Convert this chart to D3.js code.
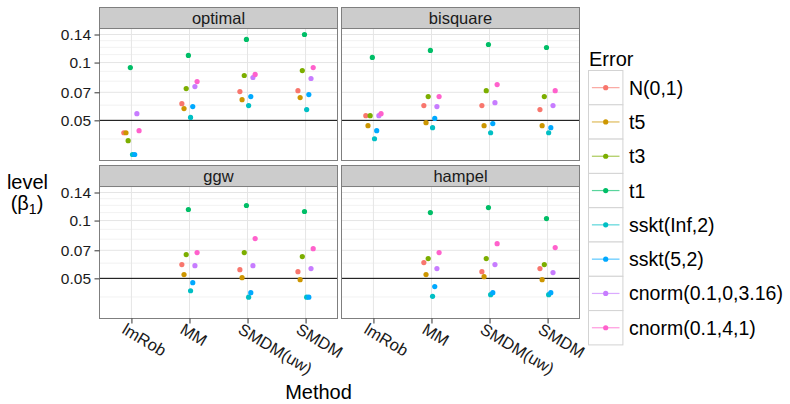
<!DOCTYPE html>
<html><head><meta charset="utf-8">
<script src="https://cdn.jsdelivr.net/npm/d3@7"></script>
<style>
body{margin:0;background:#fff}
text{font-family:"Liberation Sans",Arial,Helvetica,sans-serif}
</style>
</head><body>
<svg id="chart" width="790" height="404"></svg>
<script>
// ---------- data ----------
const methods = ["lmRob", "MM", "SMDM(uw)", "SMDM"];
const errors = ["N(0,1)", "t5", "t3", "t1", "sskt(Inf,2)", "sskt(5,2)", "cnorm(0.1,0,3.16)", "cnorm(0.1,4,1)"];
const panels = ["optimal", "bisquare", "ggw", "hampel"];
const colors = ["#F8766D", "#CD9600", "#7CAE00", "#00BE67", "#00BFC4", "#00A9FF", "#C77CFF", "#FF61CC"];

// rows = errors (same order), columns = methods
const optimalLevels = [
  [0.0431, 0.0611, 0.0706, 0.0714],
  [0.0431, 0.0576, 0.0641, 0.0657],
  [0.0392, 0.0732, 0.0856, 0.0908],
  [0.0942, 0.1089, 0.1319, 0.1400],
  [0.0332, 0.0518, 0.0597, 0.0569],
  [0.0332, 0.0590, 0.0665, 0.0681],
  [0.0542, 0.0750, 0.0836, 0.0826],
  [0.0442, 0.0796, 0.0867, 0.0942]
];
const bisquareLevels = [
  [0.0529, 0.0597, 0.0597, 0.0569],
  [0.0469, 0.0486, 0.0469, 0.0469],
  [0.0529, 0.0665, 0.0714, 0.0665],
  [0.1063, 0.1156, 0.1242, 0.1198],
  [0.0401, 0.0458, 0.0431, 0.0431],
  [0.0442, 0.0512, 0.0481, 0.0458],
  [0.0529, 0.0590, 0.0618, 0.0597],
  [0.0542, 0.0665, 0.0768, 0.0714]
];
const ggwLevels = [
  [null, 0.0590, 0.0555, 0.0542],
  [null, 0.0523, 0.0504, 0.0492],
  [null, 0.0665, 0.0681, 0.0649],
  [null, 0.1142, 0.1198, 0.1115],
  [null, 0.0431, 0.0399, 0.0399],
  [null, 0.0475, 0.0421, 0.0399],
  [null, 0.0582, 0.0582, 0.0562],
  [null, 0.0681, 0.0806, 0.0714]
];
const hampelLevels = [
  [null, 0.0604, 0.0542, 0.0562],
  [null, 0.0523, 0.0510, 0.0492],
  [null, 0.0634, 0.0634, 0.0590],
  [null, 0.1101, 0.1169, 0.1024],
  [null, 0.0403, 0.0411, 0.0411],
  [null, 0.0453, 0.0421, 0.0421],
  [null, 0.0562, 0.0590, 0.0536],
  [null, 0.0681, 0.0758, 0.0723]
];
const yTicks = [0.05, 0.07, 0.1, 0.14];
const yTickLabels = ["0.05", "0.07", "0.1", "0.14"];
const yMinor = [0.04, 0.06, 0.08, 0.09, 0.11, 0.12, 0.13, 0.15];
const refLevel = 0.05;

const panelData = [optimalLevels, bisquareLevels, ggwLevels, hampelLevels];

// ---------- layout ----------
const svg = d3.select("#chart");
const colX = [99.5, 341.5], rowY = [7.5, 165.5];
const stripH = 21, pw = 238, ph = 132;
const font = '"Liberation Sans",Arial,Helvetica,sans-serif';

const allVals = panelData.flat(2).filter(v => v != null);
const lnMin = Math.log(d3.min(allVals)), lnMax = Math.log(d3.max(allVals));
const ext = 0.05 * (lnMax - lnMin);
const y = d3.scaleLog().domain([Math.exp(lnMin - ext), Math.exp(lnMax + ext)]).range([ph, 0]);
const x = d3.scalePoint().domain(methods).range([0, pw]).padding(0.55);
const dodge = x.step() * 0.3 / errors.length;

const defs = svg.append("defs");
defs.append("clipPath").attr("id", "pclip").append("rect").attr("width", pw).attr("height", ph);

panels.forEach((name, pi) => {
  const col = pi % 2, row = Math.floor(pi / 2);
  const gx = colX[col], gy = rowY[row];
  // strip
  const strip = svg.append("g").attr("transform", `translate(${gx},${gy})`);
  strip.append("rect").attr("width", pw).attr("height", stripH)
    .attr("fill", "#CCCCCC").attr("stroke", "#7F7F7F").attr("stroke-width", 1);
  strip.append("text").attr("x", pw / 2).attr("y", stripH / 2).attr("dy", "0.36em")
    .attr("text-anchor", "middle").attr("font-size", 16.5).attr("fill", "#1a1a1a").text(name);

  const g = svg.append("g").attr("transform", `translate(${gx},${gy + stripH})`);
  g.append("rect").attr("width", pw).attr("height", ph).attr("fill", "#fff");
  const inner = g.append("g").attr("clip-path", "url(#pclip)");
  inner.selectAll(".minor").data(yMinor).enter().append("line")
    .attr("x1", 0).attr("x2", pw).attr("y1", d => y(d)).attr("y2", d => y(d))
    .attr("stroke", "#F2F2F2").attr("stroke-width", 1);
  inner.selectAll(".hmaj").data(yTicks).enter().append("line")
    .attr("x1", 0).attr("x2", pw).attr("y1", d => y(d)).attr("y2", d => y(d))
    .attr("stroke", "#E5E5E5").attr("stroke-width", 1);
  inner.selectAll(".vmaj").data(methods).enter().append("line")
    .attr("y1", 0).attr("y2", ph).attr("x1", d => x(d)).attr("x2", d => x(d))
    .attr("stroke", "#E5E5E5").attr("stroke-width", 1);
  inner.append("line").attr("x1", 0).attr("x2", pw)
    .attr("y1", y(refLevel)).attr("y2", y(refLevel))
    .attr("stroke", "#000").attr("stroke-width", 1);

  const pts = [];
  panelData[pi].forEach((rowVals, ei) => rowVals.forEach((v, mi) => {
    if (v != null) pts.push({ei, m: methods[mi], v});
  }));
  inner.selectAll("circle").data(pts).enter().append("circle")
    .attr("cx", d => x(d.m) + (d.ei - (errors.length - 1) / 2) * dodge)
    .attr("cy", d => y(d.v)).attr("r", 2.6)
    .attr("fill", d => colors[d.ei]);

  g.append("rect").attr("width", pw).attr("height", ph)
    .attr("fill", "none").attr("stroke", "#7F7F7F").attr("stroke-width", 1);

  if (col === 0) {
    const ax = g.append("g").call(d3.axisLeft(y).tickValues(yTicks)
      .tickFormat((d, i) => yTickLabels[i]).tickSize(5).tickPadding(3.5));
    ax.select(".domain").remove();
    ax.selectAll("line").attr("stroke", "#333");
    ax.selectAll("text").attr("font-size", 15.5).attr("fill", "#1a1a1a").attr("font-family", font);
  }
  if (row === 1) {
    const ax = g.append("g").attr("transform", `translate(0,${ph})`)
      .call(d3.axisBottom(x).tickSize(5));
    ax.select(".domain").remove();
    ax.selectAll("line").attr("stroke", "#333");
    ax.selectAll("text")
      .attr("font-size", 16.5).attr("fill", "#1a1a1a").attr("font-family", font)
      .attr("text-anchor", "start").attr("dy", null).attr("y", null)
      .attr("transform", "translate(-11,14) rotate(31)");
  }
});

// axis titles
svg.append("text").attr("x", 27.5).attr("y", 189).attr("text-anchor", "middle")
  .attr("font-size", 20).attr("fill", "#000").text("level");
const yt2 = svg.append("text").attr("x", 27).attr("y", 210).attr("text-anchor", "middle")
  .attr("font-size", 20).attr("fill", "#000");
yt2.append("tspan").text("(β");
yt2.append("tspan").attr("font-size", 14).attr("dy", 4).text("1");
yt2.append("tspan").attr("dy", -4).text(")");

svg.append("text").attr("x", 318.5).attr("y", 399).attr("text-anchor", "middle")
  .attr("font-size", 20).attr("fill", "#000").text("Method");

// legend
const lg = svg.append("g").attr("transform", "translate(588.5,70.5)");
svg.append("text").attr("x", 589).attr("y", 66).attr("font-size", 20).attr("fill", "#000").text("Error");
const keyW = 34.4, keyH = 34.3;
errors.forEach((e, i) => {
  const k = lg.append("g").attr("transform", `translate(0,${i * keyH})`);
  k.append("rect").attr("width", keyW).attr("height", keyH).attr("fill", "#fff")
    .attr("stroke", "#D3D3D3").attr("stroke-width", 1);
  k.append("line").attr("x1", 3.4).attr("x2", keyW - 3.4).attr("y1", keyH / 2).attr("y2", keyH / 2)
    .attr("stroke", colors[i]).attr("stroke-opacity", 0.65).attr("stroke-width", 1.2);
  k.append("circle").attr("cx", keyW / 2).attr("cy", keyH / 2).attr("r", 2.6).attr("fill", colors[i]);
  k.append("text").attr("x", 40.5).attr("y", keyH / 2).attr("dy", "0.36em")
    .attr("font-size", 19.5).attr("fill", "#000").text(e);
});
</script>
</body></html>
